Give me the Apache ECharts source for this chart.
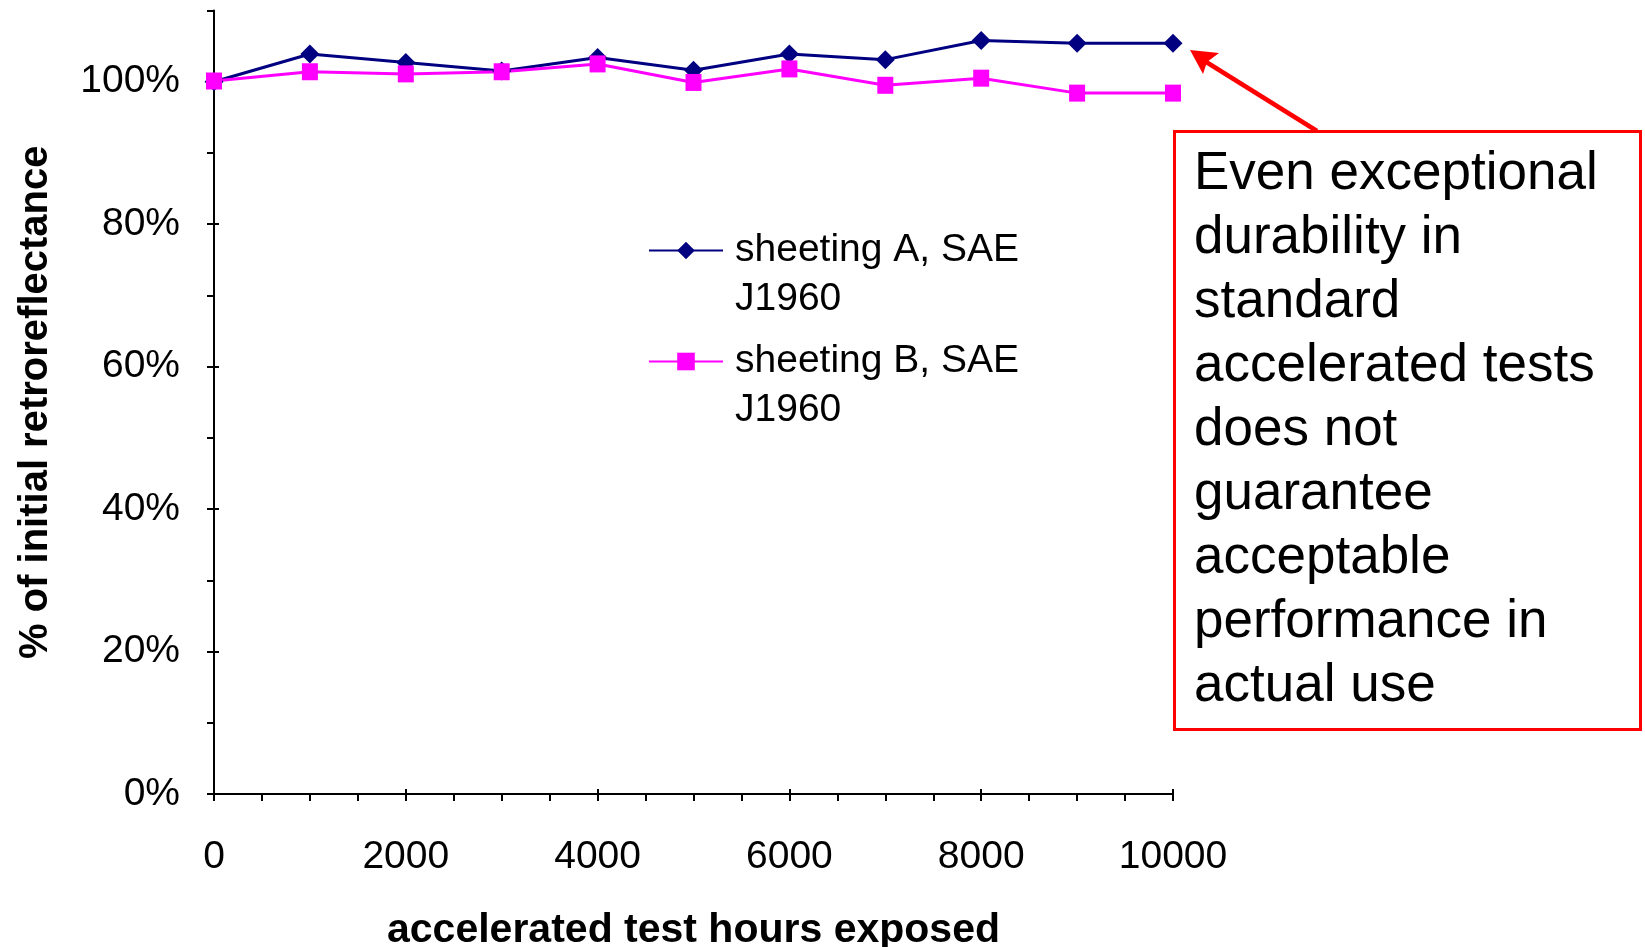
<!DOCTYPE html>
<html>
<head>
<meta charset="utf-8">
<script src="https://cdn.jsdelivr.net/npm/echarts@6/dist/echarts.min.js"></script>
<style>
  html, body { margin: 0; padding: 0; background: #fff; }
  #chart { width: 1645px; height: 947px; }
</style>
</head>
<body>
<div id="chart"></div>
<script>
// Exposure hours (x) and retained retroreflectance in % of initial (y)
const hours = [0, 1000, 2000, 3000, 4000, 5000, 6000, 7000, 8000, 9000, 10000];
const sheetingA = [100.0, 103.9, 102.7, 101.5, 103.4, 101.6, 103.9, 103.1, 105.8, 105.4, 105.4];
const sheetingB = [100.1, 101.4, 101.1, 101.4, 102.5, 99.9, 101.8, 99.5, 100.5, 98.4, 98.4];
const nameA = 'sheeting A, SAE\nJ1960';
const nameB = 'sheeting B, SAE\nJ1960';
const xMajorTicks = [0, 2000, 4000, 6000, 8000, 10000];
const yLabelTicks = [0, 20, 40, 60, 80, 100];
const noteText = 'Even exceptional\ndurability in\nstandard\naccelerated tests\ndoes not\nguarantee\nacceptable\nperformance in\nactual use';

const FONT = '"Liberation Sans", Arial, Helvetica, sans-serif';
const pairs = (xs, ys) => xs.map((x, i) => [x, ys[i]]);

const chart = echarts.init(document.getElementById('chart'), null, { renderer: 'canvas' });

// an empty leading line keeps the legend icon level with the first text line
const legendText = { fontFamily: FONT, fontSize: 39, color: '#000', lineHeight: 49, padding: [0, 0, 0, 7] };
const legendFormatter = name => '\n' + name;

chart.setOption({
  animation: false,
  backgroundColor: '#fff',
  grid: { left: 214, right: 472, top: 10.5, bottom: 153, containLabel: false, outerBoundsMode: 'none' },
  xAxis: [
    {
      type: 'value', min: 0, max: 10000, interval: 2000,
      name: 'accelerated test hours exposed', nameLocation: 'middle', nameGap: 116,
      nameTextStyle: { fontFamily: FONT, fontSize: 41, fontWeight: 'bold', color: '#000' },
      axisLine: { show: true, lineStyle: { color: '#000', width: 2 } },
      axisTick: { show: true, length: 7, lineStyle: { color: '#000', width: 2 } },
      minorTick: { show: true, splitNumber: 4, length: 7, lineStyle: { color: '#000', width: 2 } },
      axisLabel: { fontFamily: FONT, fontSize: 39, color: '#000', margin: 44,
        formatter: v => String(v) },
      splitLine: { show: false }
    },
    {
      // upper halves of the major ticks, so they cross the axis line
      type: 'value', min: 0, max: 10000, position: 'bottom',
      axisLine: { show: false },
      axisTick: { show: true, inside: true, length: 5, customValues: xMajorTicks,
        lineStyle: { color: '#000', width: 2 } },
      axisLabel: { show: false },
      splitLine: { show: false }
    }
  ],
  yAxis: [
    {
      type: 'value', min: 0, max: 110, interval: 10,
      name: '% of initial retroreflectance', nameLocation: 'middle', nameGap: 158,
      nameTextStyle: { fontFamily: FONT, fontSize: 40, fontWeight: 'bold', color: '#000' },
      axisLine: { show: true, lineStyle: { color: '#000', width: 2 } },
      axisTick: { show: true, length: 7, lineStyle: { color: '#000', width: 2 } },
      axisLabel: {
        fontFamily: FONT, fontSize: 39, color: '#000', margin: 34,
        customValues: yLabelTicks,
        formatter: v => v + '%'
      },
      splitLine: { show: false }
    },
    {
      type: 'value', min: 0, max: 110, position: 'left',
      axisLine: { show: false },
      axisTick: { show: true, inside: true, length: 5, customValues: yLabelTicks,
        lineStyle: { color: '#000', width: 2 } },
      axisLabel: { show: false },
      splitLine: { show: false }
    }
  ],
  legend: [
    {
      data: [nameA], left: 648, top: 177, padding: 0,
      itemWidth: 74, itemHeight: 22, textStyle: legendText, formatter: legendFormatter
    },
    {
      data: [nameB], left: 648, top: 288, padding: 0,
      itemWidth: 74, itemHeight: 22, textStyle: legendText, formatter: legendFormatter
    }
  ],
  series: [
    {
      name: nameA, type: 'line', data: pairs(hours, sheetingA),
      symbol: 'diamond', symbolSize: [19, 19],
      lineStyle: { color: '#000080', width: 3 },
      itemStyle: { color: '#000080' }
    },
    {
      name: nameB, type: 'line', data: pairs(hours, sheetingB),
      symbol: 'rect', symbolSize: [16, 17],
      lineStyle: { color: '#FF00FF', width: 3 },
      itemStyle: { color: '#FF00FF' }
    }
  ],
  graphic: [
    {
      type: 'rect', z: 10,
      shape: { x: 1174.5, y: 131.5, width: 466, height: 598 },
      style: { fill: '#fff', stroke: '#FF0000', lineWidth: 3 }
    },
    {
      type: 'text', z: 11, x: 1194, y: 142,
      style: {
        text: noteText, fontFamily: FONT, fontSize: 53, lineHeight: 64,
        fill: '#000', textVerticalAlign: 'top', textAlign: 'left'
      }
    },
    {
      // callout arrow from the box towards the end of the curves
      type: 'line', z: 11,
      shape: { x1: 1317, y1: 131, x2: 1203, y2: 60 },
      style: { stroke: '#FF0000', lineWidth: 4.5 }
    },
    {
      type: 'polygon', z: 11,
      shape: { points: [[1190, 50], [1219, 53], [1207, 62], [1203, 74]] },
      style: { fill: '#FF0000' }
    }
  ]
});
</script>
</body>
</html>
